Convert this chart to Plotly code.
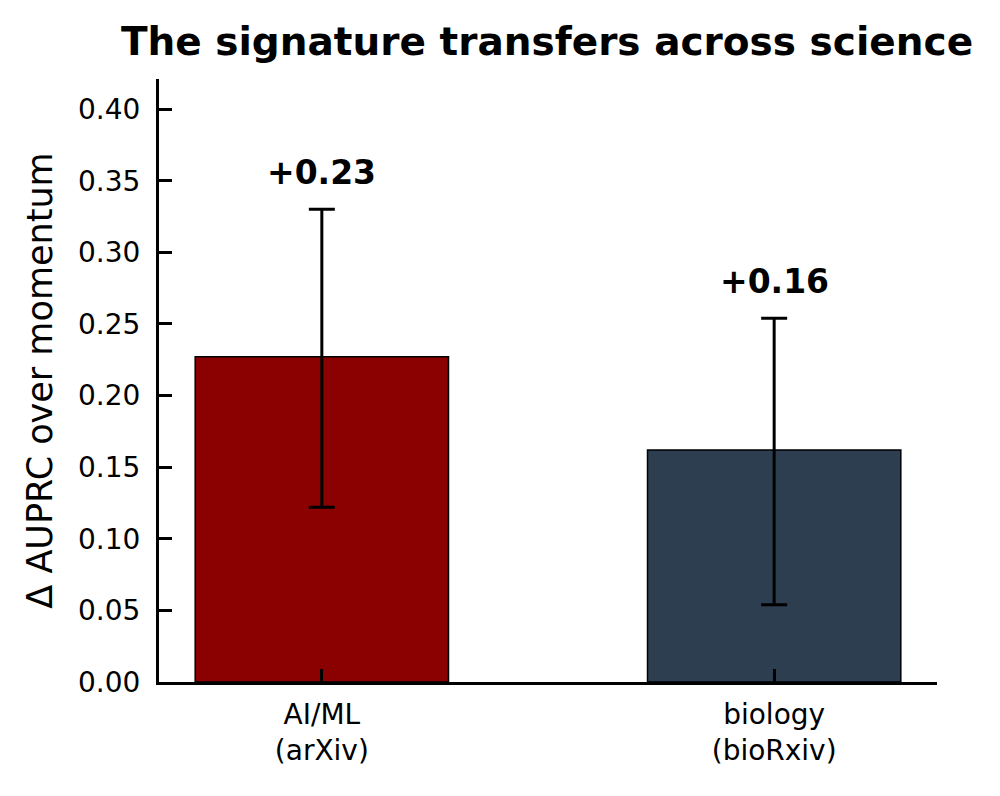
import plotly.graph_objects as go

# data
categories = ["AI/ML<br>(arXiv)", "biology<br>(bioRxiv)"]
delta = [0.227, 0.162]
ci_high = [0.330, 0.254]
ci_low = [0.122, 0.054]
bar_colors = ["#8b0000", "#2c3e50"]

err_plus = [h - d for h, d in zip(ci_high, delta)]
err_minus = [d - l for d, l in zip(delta, ci_low)]
xpos = list(range(len(categories)))

fig = go.Figure()
fig.add_trace(go.Bar(
    x=xpos, y=delta, width=0.56,
    marker=dict(color=bar_colors, line=dict(color="black", width=1.5)),
    error_y=dict(type="data", symmetric=False, array=err_plus, arrayminus=err_minus,
                 color="black", thickness=3, width=13),
    showlegend=False,
))

for x, d, h in zip(xpos, delta, ci_high):
    fig.add_annotation(x=x, y=h, text="<b>+%.2f</b>" % d, showarrow=False,
                       yanchor="middle", yshift=37,
                       font=dict(family="DejaVu Sans", size=33, color="black"))

fig.update_layout(
    width=1000, height=796,
    margin=dict(l=151, r=71, t=71, b=122),
    plot_bgcolor="white", paper_bgcolor="white",
    font=dict(family="DejaVu Sans", color="black", size=28),
    title=dict(text="<b>The signature transfers across science</b>",
               x=0.539, xanchor="center", y=0.958, yanchor="middle",
               font=dict(size=39)),
)
fig.update_xaxes(
    range=[-0.36, 1.36], tickvals=xpos, ticktext=categories,
    showline=True, linecolor="black", linewidth=3, mirror=False,
    ticks="inside", ticklen=13, tickwidth=2.5, tickcolor="black",
    showgrid=False, zeroline=False, tickfont=dict(size=28),
    ticklabelstandoff=5,
)
fig.update_yaxes(
    range=[0, 0.421], tickvals=[0, 0.05, 0.1, 0.15, 0.2, 0.25, 0.3, 0.35, 0.4],
    tickformat=".2f",
    showline=True, linecolor="black", linewidth=3,
    ticks="inside", ticklen=13, tickwidth=2.5, tickcolor="black",
    showgrid=False, zeroline=False, tickfont=dict(size=28),
    ticklabelstandoff=10,
    title=dict(text="Δ AUPRC over momentum", font=dict(size=35), standoff=15),
)

fig.write_html("out.html")
